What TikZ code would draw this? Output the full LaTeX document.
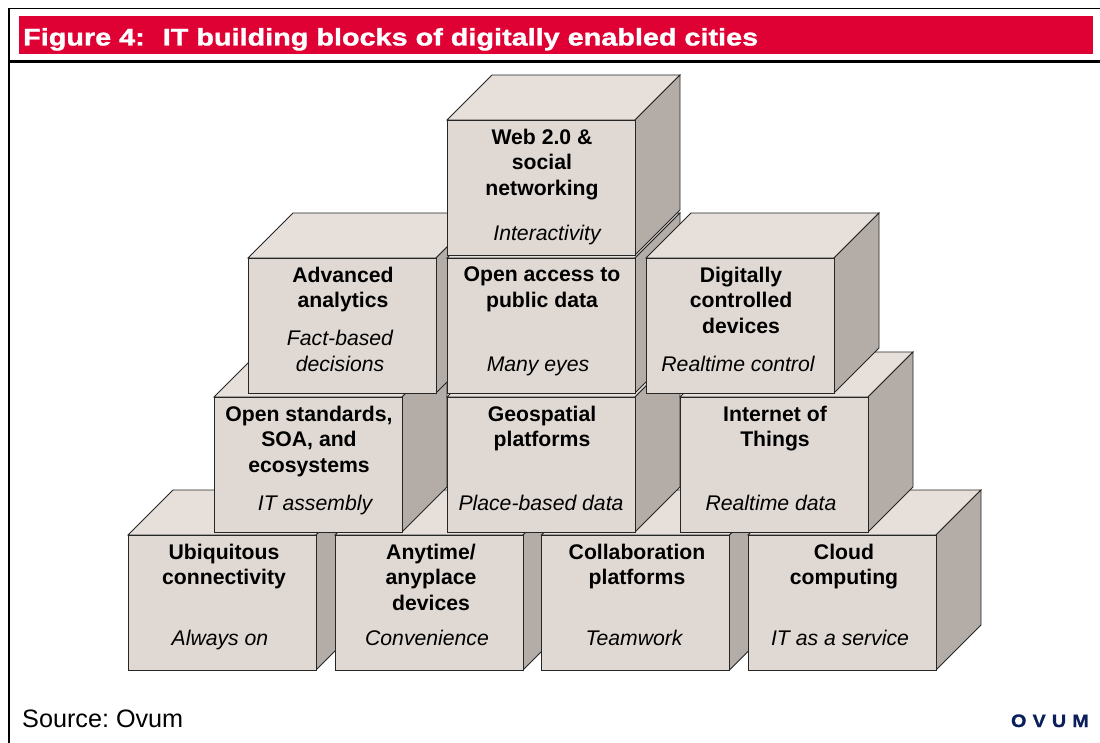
\documentclass[tikz,border=0pt]{standalone}
\usepackage{fontspec}
\setmainfont{Liberation Sans}
\newfontfamily\titlefont[FakeStretch=1.2,FakeBold=1.2]{Liberation Sans}
\newfontfamily\logofont[FakeStretch=1.1,FakeBold=1]{Liberation Sans}
\definecolor{ovred}{HTML}{DF0034}
\definecolor{ovnavy}{HTML}{0B1F5C}
\definecolor{frontc}{HTML}{E0D9D3}
\definecolor{topc}{HTML}{E7E0DA}
\definecolor{sidec}{HTML}{B4ADA7}
\tikzset{
  x=1pt,y=-1pt,
  face/.style={draw=black!85,line width=0.8pt,line join=miter},
  blocktext/.style={anchor=north,align=center,font=\fontsize{21.2}{25.5}\selectfont\bfseries,text=black,inner sep=0pt},
  blocksub/.style={anchor=base,align=center,font=\fontsize{21.2}{25.5}\selectfont\itshape,text=black,inner sep=0pt},
}
% #1 name, #2 x left, #3 y top
\newcommand{\cube}[3]{%
  \coordinate (#1) at (#2,#3);
  \filldraw[face,fill=topc] (#2,#3) -- ++(45,-45) -- ++(188,0) -- ++(-45,45) -- cycle;
  \filldraw[face,fill=sidec] (#2+188,#3) -- ++(45,-45) -- ++(0,135) -- ++(-45,45) -- cycle;
  \filldraw[face,fill=frontc] (#2,#3) rectangle ++(188,135);
}
\frenchspacing
\begin{document}
\begin{tikzpicture}
\useasboundingbox (0,0) rectangle (1100,743);
\fill[white] (0,0) rectangle (1100,743);
% frame
\coordinate (tl) at (9,8.5);
\coordinate (tr) at (1100,8.5);
\coordinate (bl) at (9,743);
\coordinate (ml) at (9,61.5);
\coordinate (mr) at (1100,61.5);
\draw[line width=1.5pt] (bl) -- (tl) -- (tr);
\draw[line width=2.2pt] (ml) -- (mr);
\fill[ovred] (19,16) rectangle (1093,54);
\node[anchor=base west,inner sep=0pt,text=white,font=\titlefont\fontsize{24}{26}\selectfont\bfseries] (title) at (23,45.5) {Figure 4:\hspace{0.75em}IT building blocks of digitally enabled cities};
% cubes, back to front
\cube{a1}{128}{535}
\cube{a2}{335}{535}
\cube{a3}{541.5}{535}
\cube{a4}{748}{535}
\cube{b1}{214}{397}
\cube{b2}{447}{397}
\cube{b3}{680}{397}
\cube{c1}{248}{258}
\cube{c2}{447}{258}
\cube{c3}{646}{258}
\cube{d1}{447}{120}
% texts
\node[blocktext] (t1) at (224,543.5) {Ubiquitous\\connectivity};
\node[blocksub] (s1) at (220,645) {Always on};
\node[blocktext] (t2) at (431,543.5) {Anytime/\\anyplace\\devices};
\node[blocksub] (s2) at (427,645) {Convenience};
\node[blocktext] (t3) at (637,543.5) {Collaboration\\platforms};
\node[blocksub] (s3) at (634,645) {Teamwork};
\node[blocktext] (t4) at (844,543.5) {Cloud\\computing};
\node[blocksub] (s4) at (840,645) {IT as a service};
\node[blocktext] (t5) at (309,405.5) {Open standards,\\SOA, and\\ecosystems};
\node[blocksub] (s5) at (315,510) {IT assembly};
\node[blocktext] (t6) at (542,405.5) {Geospatial\\platforms};
\node[blocksub] (s6) at (541,510) {Place-based data};
\node[blocktext] (t7) at (775,405.5) {Internet of\\Things};
\node[blocksub] (s7) at (771,510) {Realtime data};
\node[blocktext] (t8) at (343,266.5) {Advanced\\analytics};
\node[blocksub] (s8) at (340,371) {Fact-based\\decisions};
\node[blocktext] (t9) at (542,266.5) {Open access to\\public data};
\node[blocksub] (s9) at (538,371) {Many eyes};
\node[blocktext] (t10) at (741,266.5) {Digitally\\controlled\\devices};
\node[blocksub] (s10) at (738,371) {Realtime control};
\node[blocktext] (t11) at (542,128.5) {Web 2.0 \&\\social\\networking};
\node[blocksub] (s11) at (547,241) {Interactivity};
% footer
\node[anchor=base west,inner sep=0pt,font=\fontsize{25.2}{27}\selectfont] (src) at (22,727) {Source: Ovum};
\node[anchor=base east,inner sep=0pt,text=ovnavy,font=\logofont\fontsize{18}{20}\selectfont\bfseries] (ovum) at (1089,727) {O\hspace{0.34em}V\hspace{0.34em}U\hspace{0.34em}M};
\end{tikzpicture}
\end{document}
